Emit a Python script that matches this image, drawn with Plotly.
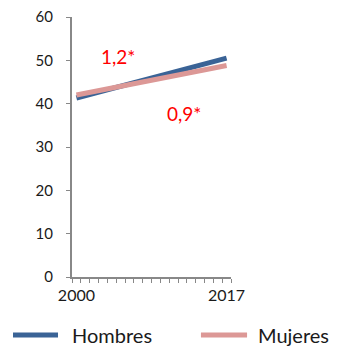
import numpy as np
import plotly.graph_objects as go

# Tendencia 2000-2017
years = [2000, 2017]
hombres = [41.3, 50.5]
mujeres = [42.0, 48.8]
series_names = ["Hombres", "Mujeres"]
series_colors = ["#3A6396", "#DC9896"]
apc_labels = ["1,2*", "0,9*"]
apc_pos = [(2004.7, 51.0), (2012.2, 37.8)]

fig = go.Figure()
for name, vals, col in zip(series_names, [hombres, mujeres], series_colors):
    fig.add_trace(go.Scatter(x=years, y=vals, name=name, mode="lines",
                             line=dict(color=col, width=5), showlegend=False))

for txt, (px, py) in zip(apc_labels, apc_pos):
    fig.add_annotation(x=px, y=py, text=txt, showarrow=False,
                       font=dict(color="#FF0000", size=19, family="Lato"))

# leyenda dibujada a mano (linea + texto) debajo del grafico
leg_x = [(-0.371, -0.088, -0.013), (0.811, 1.101, 1.155)]
leg_y = -0.223
for name, col, (x0, x1, xt) in zip(series_names, series_colors, leg_x):
    fig.add_shape(type="line", xref="paper", yref="paper", x0=x0, x1=x1, y0=leg_y, y1=leg_y,
                  line=dict(color=col, width=5))
    fig.add_annotation(xref="paper", yref="paper", x=xt, y=leg_y, text=name, showarrow=False,
                       xanchor="left", yanchor="middle", font=dict(size=20, color="#1a1a1a"))

fig.update_xaxes(range=[1999.5, 2017.5], tickvals=years, ticktext=[str(y) for y in years],
                 ticks="", showline=True, linecolor="#888888", linewidth=2,
                 showgrid=False, zeroline=False, ticklabelstandoff=3,
                 tickfont=dict(size=16, color="#1a1a1a"),
                 minor=dict(tickvals=list(np.arange(1999.5, 2018, 1.0)), ticks="outside",
                            ticklen=4, tickcolor="#888888", tickwidth=1))
fig.update_yaxes(range=[0, 60], dtick=10, ticks="outside", ticklen=4, tickcolor="#888888",
                 showline=True, linecolor="#888888", linewidth=2,
                 showgrid=False, zeroline=False, ticklabelstandoff=10,
                 ticklabeloverflow="allow",
                 tickfont=dict(size=15, color="#1a1a1a"))

# la pagina tiene 8px de margen en body
fig.update_layout(width=331, height=339,
                  margin=dict(l=64, r=108, t=9, b=70, autoexpand=False),
                  plot_bgcolor="white", paper_bgcolor="white",
                  font=dict(family="Lato", color="#1a1a1a"))

fig.write_html("out.html")
